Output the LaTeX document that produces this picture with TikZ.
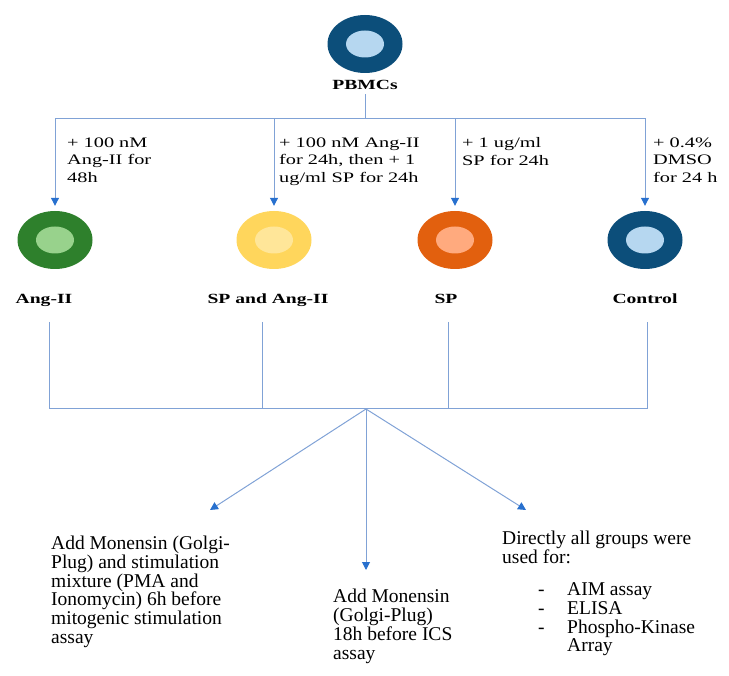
\documentclass[tikz,border=0pt]{standalone}
\usepackage{fontspec}
\setmainfont{Liberation Serif}
\newfontfamily\widefont{Liberation Serif}[FakeStretch=1.4]
\usetikzlibrary{positioning,arrows.meta,shapes.geometric}
\definecolor{LinkBlue}{RGB}{128,162,214}
\definecolor{TipBlue}{RGB}{40,112,206}
\definecolor{NavyOut}{RGB}{12,78,122}
\definecolor{NavyIn}{RGB}{182,215,240}
\definecolor{LeafOut}{RGB}{46,128,44}
\definecolor{LeafIn}{RGB}{152,210,140}
\definecolor{SunOut}{RGB}{255,214,92}
\definecolor{SunIn}{RGB}{255,230,153}
\definecolor{RustOut}{RGB}{226,96,14}
\definecolor{RustIn}{RGB}{255,170,126}
\tikzset{
  cellout/.style={ellipse, fill=#1, minimum width=75pt, minimum height=58pt, inner sep=0pt},
  cellin/.style={ellipse, fill=#1, minimum width=38pt, minimum height=27pt, inner sep=0pt},
  grp/.style={font=\widefont\fontsize{14}{17.5}\selectfont\bfseries, inner sep=0pt, anchor=base},
  dose/.style={font=\widefont\fontsize{14.5}{17.5}\selectfont, align=left, inner sep=0pt, anchor=north west},
  note/.style={font=\fontsize{19.5}{18.8}\selectfont, align=left, inner sep=0pt, anchor=north west},
  link/.style={draw=LinkBlue, line width=1pt},
  arrow/.style={link, -{Triangle[width=8pt,length=8pt,color=TipBlue]}}
}
\newcommand{\bul}{\makebox[29pt][l]{-}}

\begin{document}
\begin{tikzpicture}[x=1pt, y=-1pt]
  \useasboundingbox (0,0) rectangle (729,676);
  % source cells
  \node[cellout=NavyOut] (pbmc) at (365,44) {};
  \node[cellin=NavyIn] at (pbmc) {};
  \node[grp] (pbmc-lbl) at (365,90) {PBMCs};
  \coordinate (hub) at (365,119);
  % treated groups
  \node[cellout=LeafOut] (ang) at (55,240) {};
  \node[cellin=LeafIn] at (ang) {};
  \node[cellout=SunOut] (mix) at (274,240) {};
  \node[cellin=SunIn] at (mix) {};
  \node[cellout=RustOut] (sp) at (455,240) {};
  \node[cellin=RustIn] at (sp) {};
  \node[cellout=NavyOut] (ctrl) at (645,240) {};
  \node[cellin=NavyIn] at (ctrl) {};
  \node[grp] (ang-lbl) at (44,304) {Ang-II};
  \node[grp] (mix-lbl) at (268,304) {SP and Ang-II};
  \node[grp] (sp-lbl) at (446,304) {SP};
  \node[grp] (ctrl-lbl) at (645,304) {Control};
  % treatments
  \draw[link] ([yshift=-4pt]pbmc-lbl.south) -- (hub);
  \foreach \g in {ang,mix,sp,ctrl}
    \draw[arrow, shorten >=5pt] (hub) -| (\g.north);
  \node[dose] (ang-txt) at (67,137.3) {+ 100 nM\\Ang-II for\\48h};
  \node[dose] (mix-txt) at (279,137.3) {+ 100 nM Ang-II\\for 24h, then + 1\\ug/ml SP for 24h};
  \node[dose] (sp-txt) at (462,137.3) {+ 1 ug/ml\\SP for 24h};
  \node[dose] (ctrl-txt) at (653,137.3) {+ 0.4\%\\DMSO\\for 24 h};
  % pooling
  \coordinate (fan) at (366,409);
  \coordinate (foot1) at (49,322);
  \coordinate (foot2) at (262,322);
  \coordinate (foot3) at (448,322);
  \coordinate (foot4) at (647,322);
  \draw[link] (foot1) |- (foot4 |- fan) -- (foot4);
  \draw[link] (foot2) -- (foot2 |- fan);
  \draw[link] (foot3) -- (foot3 |- fan);
  % assays
  \coordinate (tipL) at (210,510);
  \coordinate (tipM) at (366,570);
  \coordinate (tipR) at (526,510);
  \draw[arrow] (fan) -- (tipL);
  \draw[arrow] (fan) -- (tipM);
  \draw[arrow] (fan) -- (tipR);
  \node[note] (mito) at (51,535.8) {Add Monensin (Golgi-\\Plug) and stimulation\\mixture (PMA and\\Ionomycin) 6h before\\mitogenic stimulation\\assay};
  \node[note] (ics) at (333,589) {Add Monensin\\(Golgi-Plug)\\18h before ICS\\assay};
  \node[note] (direct) at (502,531) {Directly all groups were\\used for:};
  \node[note] (uses) at (538,582.4) {\bul AIM assay\\\bul ELISA\\\bul Phospho-Kinase\\\hspace*{29pt}Array};
\end{tikzpicture}
\end{document}
